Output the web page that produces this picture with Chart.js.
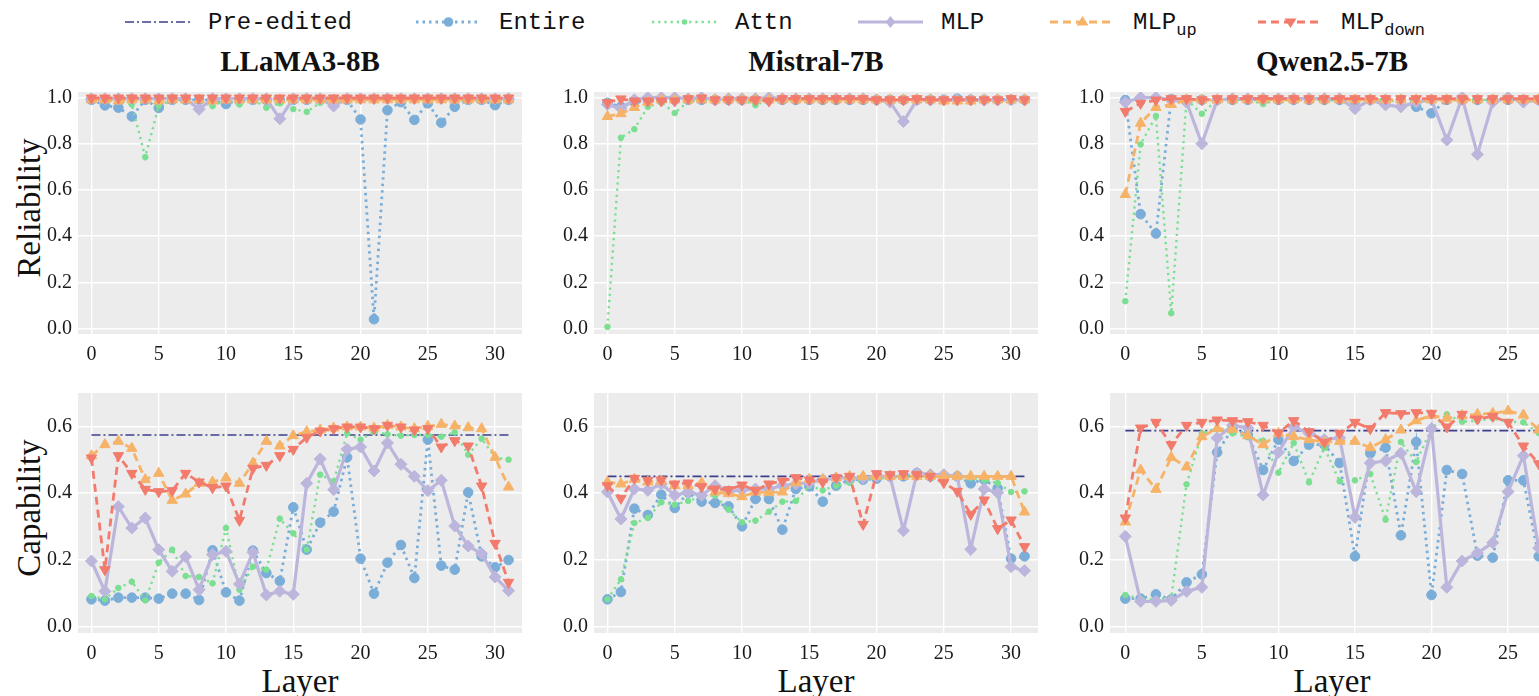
<!DOCTYPE html>
<html><head><meta charset="utf-8">
<script src="https://cdn.jsdelivr.net/npm/chart.js@4.4.1/dist/chart.umd.min.js"></script>
<style>
html,body{margin:0;padding:0;background:#fff;}
body{width:1539px;height:696px;overflow:hidden;position:relative;font-family:"Liberation Serif","Times New Roman",serif;color:#111;}
canvas{position:absolute;}
.title{position:absolute;font-weight:bold;font-size:29px;transform:translate(-50%,-50%);white-space:nowrap;}
.xlab{position:absolute;font-size:33px;transform:translate(-50%,-50%);white-space:nowrap;}
.ylab{position:absolute;font-size:33px;transform:translate(-50%,-50%) rotate(-90deg);white-space:nowrap;}
.legitem{position:absolute;top:0;height:44px;display:flex;align-items:center;font-family:"Liberation Mono","DejaVu Sans Mono",monospace;font-size:24px;color:#111;white-space:nowrap;}
.legitem svg{margin-right:18px;}
.legitem sub{font-size:17px;vertical-align:-6px;line-height:0;}
</style>
</head><body>
<div id="legend"></div>
<div class="title" style="left:300px;top:61px">LLaMA3-8B</div>
<div class="title" style="left:816px;top:61px">Mistral-7B</div>
<div class="title" style="left:1332px;top:61px">Qwen2.5-7B</div>
<div class="ylab" style="left:29px;top:208px">Reliability</div>
<div class="ylab" style="left:29px;top:508px">Capability</div>
<div class="xlab" style="left:300px;top:681px">Layer</div>
<div class="xlab" style="left:816px;top:681px">Layer</div>
<div class="xlab" style="left:1332px;top:681px">Layer</div>
<canvas id="c0"></canvas><canvas id="c1"></canvas><canvas id="c2"></canvas>
<canvas id="c3"></canvas><canvas id="c4"></canvas><canvas id="c5"></canvas>
<script>
// ---------------- categories / ticks ----------------
const layers32 = [0,1,2,3,4,5,6,7,8,9,10,11,12,13,14,15,16,17,18,19,20,21,22,23,24,25,26,27,28,29,30,31];
const layers28 = [0,1,2,3,4,5,6,7,8,9,10,11,12,13,14,15,16,17,18,19,20,21,22,23,24,25,26,27];
const xTickLabels = [0,5,10,15,20,25,30];
const relTickLabels = [0.0,0.2,0.4,0.6,0.8,1.0];
const capTickLabels = [0.0,0.2,0.4,0.6];
const seriesNames = ['Entire','Attn','MLP','MLP_up','MLP_down'];

// ---------------- LLaMA3-8B ----------------
const llamaRelEntire = [0.99,0.966,0.956,0.918,0.99,0.955,0.99,0.99,0.99,0.99,0.972,0.99,0.99,0.99,0.99,0.99,0.99,0.99,0.99,0.99,0.905,0.04,0.945,0.98,0.903,0.975,0.891,0.96,0.99,0.99,0.967,0.99];
const llamaRelAttn = [0.99,0.99,0.985,0.97,0.742,0.965,0.99,0.99,0.99,0.963,0.99,0.97,0.99,0.956,0.975,0.95,0.938,0.977,0.99,0.99,0.99,0.99,0.99,0.99,0.99,0.99,0.99,0.99,0.99,0.99,0.99,0.99];
const llamaRelMLP = [0.995,0.995,0.995,0.995,0.995,0.995,0.995,0.995,0.949,0.995,0.995,0.995,0.995,0.995,0.908,0.995,0.995,0.995,0.963,0.995,0.995,0.995,0.995,0.995,0.995,0.995,0.995,0.995,0.995,0.995,0.995,0.995];
const llamaRelMLPup = [0.99,0.99,0.985,0.99,0.99,0.985,0.99,0.99,0.99,0.985,0.99,0.99,0.99,0.99,0.99,0.99,0.99,0.99,0.99,0.99,0.99,0.99,0.99,0.99,0.99,0.99,0.99,0.99,0.99,0.99,0.99,0.99];
const llamaRelMLPdown = [0.998,0.998,0.998,0.998,0.998,0.998,0.998,0.998,0.998,0.998,0.998,0.998,0.998,0.998,0.998,0.998,0.998,0.998,0.998,0.998,0.998,0.998,0.998,0.998,0.998,0.998,0.998,0.998,0.998,0.998,0.998,0.998];
const llamaCapPre = 0.574;
const llamaCapEntire = [0.081,0.077,0.086,0.086,0.086,0.083,0.098,0.098,0.079,0.228,0.102,0.077,0.227,0.16,0.136,0.357,0.23,0.311,0.344,0.507,0.203,0.098,0.191,0.244,0.145,0.56,0.182,0.17,0.402,0.21,0.177,0.199];
const llamaCapAttn = [0.091,0.081,0.115,0.134,0.078,0.191,0.23,0.151,0.148,0.129,0.295,0.11,0.179,0.17,0.323,0.279,0.23,0.455,0.435,0.579,0.56,0.584,0.576,0.572,0.574,0.574,0.569,0.582,0.515,0.563,0.507,0.5];
const llamaCapMLP = [0.196,0.105,0.359,0.295,0.325,0.23,0.165,0.209,0.11,0.215,0.225,0.127,0.222,0.094,0.105,0.096,0.429,0.502,0.41,0.531,0.538,0.466,0.55,0.486,0.45,0.407,0.438,0.301,0.241,0.218,0.148,0.107];
const llamaCapMLPup = [0.512,0.545,0.555,0.534,0.44,0.459,0.378,0.397,0.429,0.433,0.445,0.429,0.49,0.555,0.541,0.572,0.584,0.589,0.595,0.598,0.598,0.595,0.603,0.598,0.593,0.6,0.606,0.601,0.596,0.593,0.507,0.418];
const llamaCapMLPdown = [0.505,0.17,0.512,0.459,0.411,0.404,0.407,0.459,0.433,0.416,0.421,0.318,0.474,0.483,0.512,0.531,0.567,0.586,0.593,0.598,0.598,0.593,0.603,0.598,0.589,0.593,0.538,0.557,0.541,0.421,0.249,0.132];

// ---------------- Mistral-7B ----------------
const mistralRelEntire = [0.977,0.96,0.98,0.99,0.99,0.99,0.99,0.99,0.99,0.99,0.99,0.99,0.99,0.99,0.99,0.99,0.99,0.99,0.99,0.99,0.99,0.99,0.99,0.99,0.99,0.99,0.995,0.99,0.99,0.99,0.99,0.99];
const mistralRelAttn = [0.007,0.826,0.863,0.96,0.98,0.933,0.983,0.99,0.99,0.99,0.99,0.967,0.99,0.99,0.99,0.99,0.99,0.99,0.99,0.99,0.99,0.99,0.99,0.99,0.99,0.99,0.99,0.99,0.99,0.99,0.99,0.99];
const mistralRelMLP = [0.97,0.953,0.99,1.0,1.0,1.0,0.995,1.0,0.99,0.995,0.995,0.995,1.0,0.995,0.995,0.995,0.995,0.995,0.995,0.995,0.99,0.98,0.896,0.99,0.99,0.99,0.99,0.99,0.99,0.99,0.99,0.99];
const mistralRelMLPup = [0.918,0.93,0.957,0.98,0.99,0.99,0.99,0.99,0.99,0.99,0.99,0.99,0.99,0.99,0.99,0.99,0.99,0.99,0.99,0.99,0.99,0.99,0.99,0.99,0.99,0.985,0.985,0.985,0.99,0.99,0.99,0.99];
const mistralRelMLPdown = [0.978,0.994,0.985,0.985,0.985,0.985,0.995,0.998,0.99,0.99,0.99,0.99,0.985,0.995,0.995,0.995,0.995,0.995,0.995,0.995,0.99,0.99,0.99,0.995,0.99,0.99,0.99,0.99,0.99,0.99,0.995,0.99];
const mistralCapPre = 0.45;
const mistralCapEntire = [0.081,0.103,0.353,0.334,0.395,0.355,0.401,0.374,0.37,0.36,0.3,0.382,0.382,0.29,0.412,0.42,0.374,0.422,0.44,0.44,0.443,0.45,0.45,0.46,0.45,0.45,0.45,0.429,0.44,0.414,0.203,0.21];
const mistralCapAttn = [0.081,0.141,0.31,0.325,0.372,0.365,0.376,0.389,0.393,0.35,0.312,0.317,0.344,0.374,0.376,0.422,0.408,0.422,0.431,0.44,0.445,0.445,0.45,0.45,0.45,0.45,0.45,0.445,0.439,0.43,0.403,0.405];
const mistralCapMLP = [0.403,0.322,0.412,0.408,0.427,0.393,0.403,0.393,0.422,0.405,0.408,0.412,0.412,0.422,0.427,0.431,0.44,0.445,0.445,0.445,0.45,0.45,0.287,0.46,0.455,0.455,0.45,0.231,0.412,0.401,0.179,0.167];
const mistralCapMLPup = [0.433,0.427,0.441,0.433,0.436,0.422,0.422,0.431,0.403,0.398,0.389,0.403,0.401,0.403,0.431,0.441,0.44,0.445,0.45,0.45,0.45,0.45,0.45,0.45,0.45,0.45,0.45,0.45,0.45,0.45,0.45,0.343];
const mistralCapMLPdown = [0.422,0.384,0.444,0.438,0.439,0.427,0.43,0.419,0.412,0.41,0.424,0.408,0.427,0.436,0.446,0.439,0.433,0.446,0.45,0.306,0.458,0.455,0.458,0.455,0.45,0.431,0.405,0.336,0.379,0.293,0.319,0.239];

// ---------------- Qwen2.5-7B ----------------
const qwenRelEntire = [0.989,0.495,0.411,0.993,0.99,0.99,0.99,0.99,0.99,0.99,0.99,0.99,0.99,0.99,0.99,0.985,0.99,0.99,0.99,0.96,0.932,0.99,0.99,0.99,0.99,0.99,0.99,0.99];
const qwenRelAttn = [0.118,0.797,0.92,0.066,0.99,0.93,0.99,0.99,0.99,0.972,0.99,0.99,0.99,0.99,0.985,0.99,0.99,0.99,0.98,0.99,0.99,0.99,0.99,0.99,0.99,0.99,0.99,0.99];
const qwenRelMLP = [0.98,1.0,1.0,0.99,0.98,0.80,0.99,0.995,0.995,0.995,0.995,0.995,0.995,0.995,0.995,0.952,0.99,0.968,0.96,0.98,0.99,0.816,1.0,0.754,0.98,1.0,0.98,0.99];
const qwenRelMLPup = [0.58,0.889,0.957,0.97,0.99,0.99,0.99,0.99,0.99,0.99,0.99,0.99,0.99,0.99,0.99,0.99,0.99,0.99,0.99,0.99,0.99,0.99,0.99,0.99,0.99,0.99,0.99,0.99];
const qwenRelMLPdown = [0.94,0.975,0.989,0.995,0.995,0.99,0.995,0.995,0.995,0.995,0.995,0.995,0.995,0.995,0.995,0.995,0.995,0.995,0.995,0.995,0.995,0.995,0.995,0.995,0.995,0.995,0.995,0.995];
const qwenCapPre = 0.587;
const qwenCapEntire = [0.083,0.083,0.096,0.081,0.132,0.156,0.522,0.593,0.574,0.469,0.56,0.496,0.545,0.545,0.49,0.21,0.519,0.536,0.273,0.553,0.094,0.469,0.457,0.212,0.206,0.438,0.438,0.21];
const qwenCapAttn = [0.094,0.083,0.081,0.086,0.426,0.579,0.593,0.579,0.569,0.557,0.461,0.55,0.432,0.536,0.435,0.438,0.457,0.32,0.553,0.493,0.593,0.636,0.614,0.617,0.624,0.614,0.612,0.58];
const qwenCapMLP = [0.27,0.075,0.075,0.078,0.105,0.117,0.565,0.603,0.595,0.394,0.522,0.598,0.579,0.56,0.565,0.327,0.49,0.496,0.519,0.404,0.593,0.117,0.196,0.22,0.251,0.404,0.512,0.235];
const qwenCapMLPup = [0.313,0.469,0.411,0.507,0.478,0.569,0.593,0.591,0.572,0.545,0.579,0.569,0.56,0.553,0.555,0.555,0.536,0.56,0.589,0.617,0.633,0.624,0.632,0.636,0.639,0.646,0.634,0.589];
const qwenCapMLPdown = [0.325,0.595,0.612,0.545,0.603,0.612,0.619,0.617,0.614,0.603,0.58,0.617,0.584,0.552,0.579,0.612,0.593,0.641,0.638,0.641,0.639,0.598,0.636,0.622,0.63,0.612,0.541,0.488];

// ---------------- styles ----------------
const STYLE = {
  Pre:      {color:'#3c3f8e', width:1.6, dash:[9,3,2,3], point:false},
  Entire:   {color:'#7aaed9', width:2.8, dash:[2.5,4], point:'circle', r:4.8, rot:0},
  Attn:     {color:'#7bdf91', width:2.4, dash:[2.2,4], point:'circle', r:2.8, rot:0},
  MLP:      {color:'#bcb6dc', width:3.2, dash:[],    point:'rectRot', r:6, rot:0},
  MLP_up:   {color:'#f6b368', width:2.8, dash:[8,5], point:'triangle', r:6, rot:0},
  MLP_down: {color:'#f27b6c', width:2.8, dash:[8,5], point:'triangle', r:6, rot:180}
};
const ORDER = {Pre:5, Entire:4, Attn:3, MLP:2, MLP_up:1, MLP_down:0};
const SERIF = "'Liberation Serif', 'Times New Roman', serif";

const bgPlugin = {
  id:'bg',
  beforeDraw(chart){
    const a = chart.chartArea, ctx = chart.ctx;
    ctx.save(); ctx.fillStyle = '#ececec';
    ctx.fillRect(a.left, a.top, a.right-a.left, a.bottom-a.top);
    ctx.restore();
  }
};

function ds(name, layers, vals){
  const s = STYLE[name];
  return {
    label:name, order:ORDER[name],
    data: layers.map((x,i)=>({x:x, y:vals[i]})),
    borderColor:s.color, backgroundColor:s.color, borderWidth:s.width, borderDash:s.dash,
    borderCapStyle:'butt', tension:0,
    pointStyle:s.point, pointRadius:s.r, pointRotation:s.rot,
    pointBackgroundColor:s.color, pointBorderColor:s.color, pointBorderWidth:1
  };
}
function preDs(layers, v){
  const s = STYLE.Pre;
  return {label:'Pre-edited', order:ORDER.Pre,
    data:[{x:layers[0],y:v},{x:layers[layers.length-1],y:v}],
    borderColor:s.color, borderWidth:s.width, borderDash:s.dash, pointRadius:0, tension:0};
}

const PLOT_W = 444, Y_AX = 70, X_AX = 40, PAD_T = 8, PAD_R = 8;
function panel(id, left, top, h, layers, series, pre, yMin, yMax, xMax, yTicks){
  const cv = document.getElementById(id);
  const W = Y_AX + PLOT_W + PAD_R, H = PAD_T + h + X_AX;
  cv.width = W; cv.height = H;
  cv.style.left = (left - Y_AX) + 'px'; cv.style.top = (top - PAD_T) + 'px';
  cv.style.width = W + 'px'; cv.style.height = H + 'px';
  const datasets = [];
  if (pre !== null) datasets.push(preDs(layers, pre));
  seriesNames.forEach((n,i)=>datasets.push(ds(n, layers, series[i])));
  const gridCfg = {color:'#ffffff', lineWidth:1.4, drawTicks:false};
  const tickFont = {family:SERIF, size:20, weight:'normal'};
  new Chart(cv, {
    type:'line',
    data:{datasets},
    plugins:[bgPlugin],
    options:{
      responsive:false, animation:false, devicePixelRatio:1,
      layout:{padding:{top:PAD_T, right:PAD_R, left:0, bottom:0}},
      plugins:{legend:{display:false}, tooltip:{enabled:false}},
      scales:{
        x:{type:'linear', min:-1, max:xMax, grid:gridCfg, border:{display:false},
           afterBuildTicks:(s)=>{ s.ticks = xTickLabels.filter(v=>v<=xMax).map(v=>({value:v})); },
           afterFit:(s)=>{ s.height = X_AX; },
           ticks:{font:tickFont, color:'#1a1a1a', padding:9, autoSkip:false, maxRotation:0, callback:(v)=>String(v)}},
        y:{type:'linear', min:yMin, max:yMax, grid:gridCfg, border:{display:false},
           afterBuildTicks:(s)=>{ s.ticks = yTicks.map(v=>({value:v})); },
           afterFit:(s)=>{ s.width = Y_AX; },
           ticks:{font:tickFont, color:'#1a1a1a', padding:6, callback:(v)=>Number(v).toFixed(1)}}
      }
    }
  });
}

function build(){
  Chart.defaults.font.family = SERIF;
  Chart.defaults.color = '#1a1a1a';
  const cols = [78, 594, 1110];
  panel('c0', cols[0], 82, 252, layers32, [llamaRelEntire,llamaRelAttn,llamaRelMLP,llamaRelMLPup,llamaRelMLPdown], null, -0.024, 1.024, 32, relTickLabels);
  panel('c1', cols[1], 82, 252, layers32, [mistralRelEntire,mistralRelAttn,mistralRelMLP,mistralRelMLPup,mistralRelMLPdown], null, -0.024, 1.024, 32, relTickLabels);
  panel('c2', cols[2], 82, 252, layers28, [qwenRelEntire,qwenRelAttn,qwenRelMLP,qwenRelMLPup,qwenRelMLPdown], null, -0.024, 1.024, 28, relTickLabels);
  panel('c3', cols[0], 383, 250, layers32, [llamaCapEntire,llamaCapAttn,llamaCapMLP,llamaCapMLPup,llamaCapMLPdown], llamaCapPre, -0.02, 0.70, 32, capTickLabels);
  panel('c4', cols[1], 383, 250, layers32, [mistralCapEntire,mistralCapAttn,mistralCapMLP,mistralCapMLPup,mistralCapMLPdown], mistralCapPre, -0.02, 0.70, 32, capTickLabels);
  panel('c5', cols[2], 383, 250, layers28, [qwenCapEntire,qwenCapAttn,qwenCapMLP,qwenCapMLPup,qwenCapMLPdown], qwenCapPre, -0.02, 0.70, 28, capTickLabels);
}

// ---------------- legend (HTML, real text) ----------------
const legendKeys = ['Pre','Entire','Attn','MLP','MLP_up','MLP_down'];
const legendText = ['Pre-edited','Entire','Attn','MLP','MLP<sub>up</sub>','MLP<sub>down</sub>'];
const legendX = [125, 416, 652, 858, 1050, 1258];
function icon(key){
  const s = STYLE[key], c = s.color, L = 65, cy = 10;
  const dash = s.dash.length ? `stroke-dasharray="${s.dash.join(' ')}"` : '';
  let m = '';
  const cx = L/2;
  if (s.point === 'circle') m = `<circle cx="${cx}" cy="${cy}" r="${s.r}" fill="${c}"/>`;
  else if (s.point === 'rectRot') m = `<polygon points="${cx},${cy-s.r} ${cx+s.r*0.8},${cy} ${cx},${cy+s.r} ${cx-s.r*0.8},${cy}" fill="${c}"/>`;
  else if (s.point === 'triangle') {
    const r = s.r;
    m = s.rot ? `<polygon points="${cx-r},${cy-r*0.6} ${cx+r},${cy-r*0.6} ${cx},${cy+r}" fill="${c}"/>`
              : `<polygon points="${cx-r},${cy+r*0.6} ${cx+r},${cy+r*0.6} ${cx},${cy-r}" fill="${c}"/>`;
  }
  return `<svg width="${L}" height="20"><line x1="0" y1="${cy}" x2="${L}" y2="${cy}" stroke="${c}" stroke-width="${s.width}" ${dash}/>${m}</svg>`;
}
const leg = document.getElementById('legend');
legendKeys.forEach((k,i)=>{
  const d = document.createElement('div');
  d.className = 'legitem';
  d.style.left = legendX[i] + 'px';
  d.innerHTML = icon(k) + '<span>' + legendText[i] + '</span>';
  leg.appendChild(d);
});

build();
</script>
</body></html>
